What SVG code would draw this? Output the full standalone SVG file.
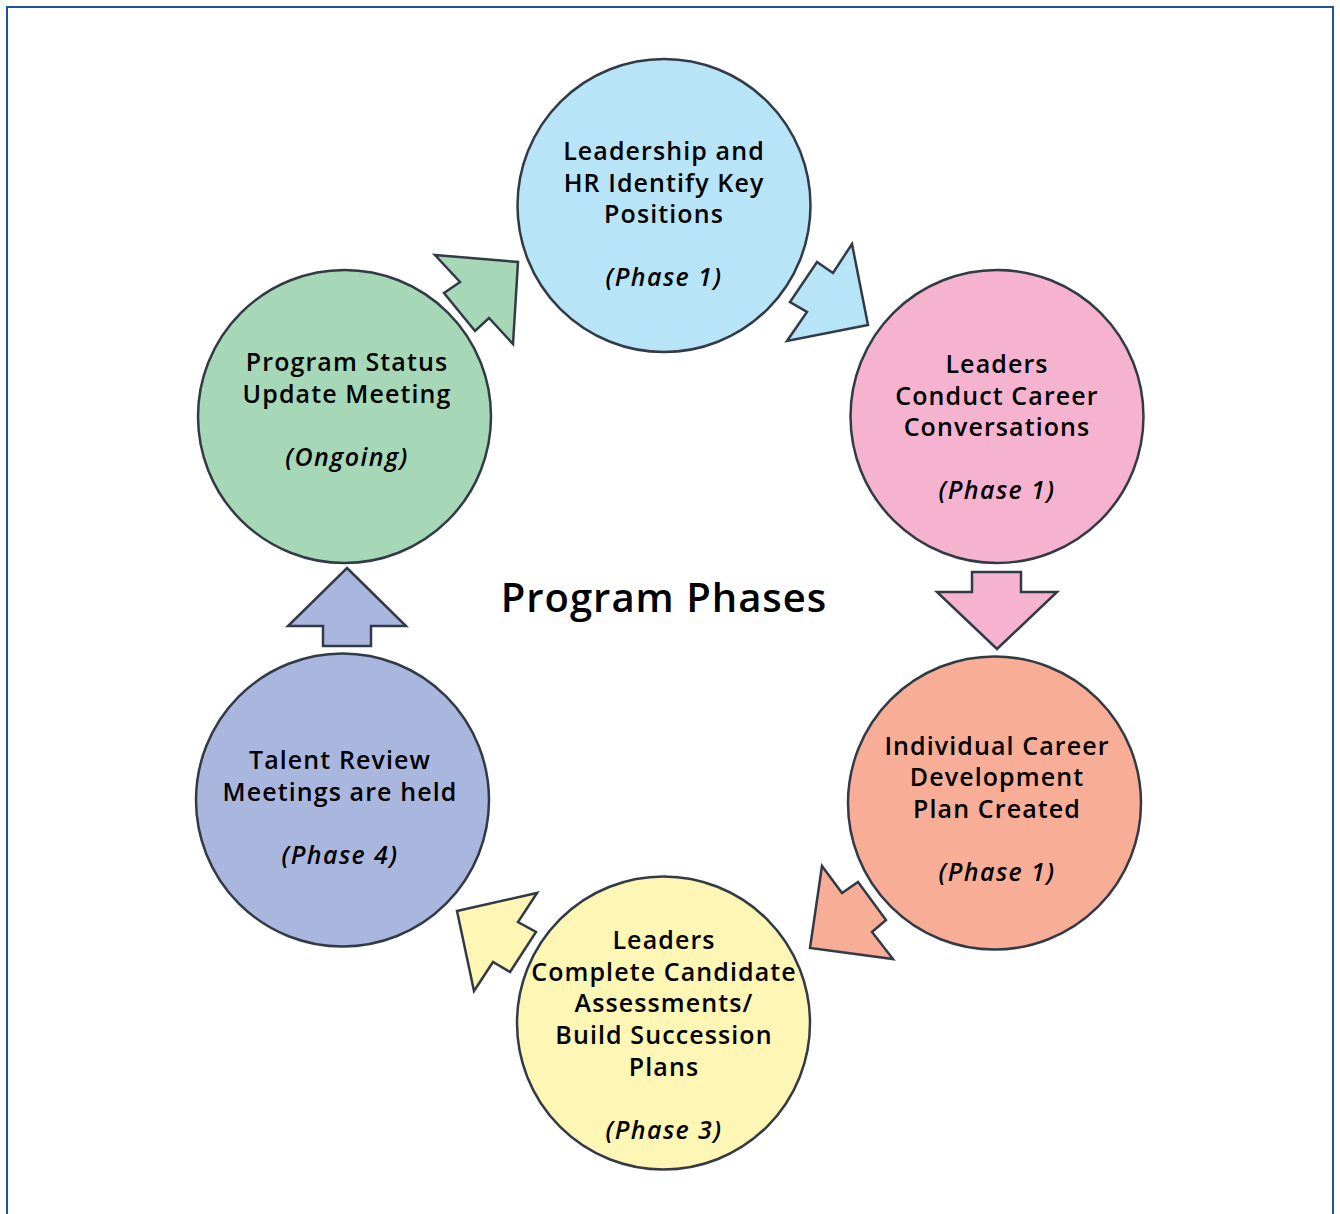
<svg xmlns="http://www.w3.org/2000/svg" width="1340" height="1214" viewBox="0 0 1340 1214">
<style>
.node{stroke:#323a46;stroke-width:2.5}
.arr{stroke:#323a46;stroke-width:2.5;stroke-linejoin:miter}
.t{font-family:"Open Sans","Liberation Sans",sans-serif;font-weight:600;font-size:25px;letter-spacing:1.1px;fill:#000;text-anchor:middle}
.p{font-style:italic;font-weight:600;letter-spacing:1.4px}
.title{font-family:"Open Sans","Liberation Sans",sans-serif;font-weight:600;font-size:40px;letter-spacing:1px;fill:#000;text-anchor:middle}
</style>
<rect x="0" y="0" width="1340" height="1214" fill="#fff"/>
<rect x="7" y="7" width="1326" height="1230" fill="none" stroke="#1f5597" stroke-width="2"/>
<g id="connectors">
<polygon class="arr" fill="#a6d7b6" points="435,255 518,262 513,344 489,318 475,331 444,293 460,282"/>
<polygon class="arr" fill="#b8e4f8" points="852,244 868,325 787,341 807,312 790,302 817,262 833,273"/>
<polygon class="arr" fill="#f5b3cf" points="972,572 1021,572 1021,592 1057,592 997,649 937,592 972,592"/>
<polygon class="arr" fill="#f8ae96" points="822,866 842,893 858,882 886,920 872,932 893,959 810,948"/>
<polygon class="arr" fill="#fdf6b4" points="537,893 518,922 536,932 510,972 493,962 474,991 457,911"/>
<polygon class="arr" fill="#a9b7df" points="347,568 406,626 371,626 371,646 323,646 323,626 288,626"/>
</g>
<g id="node-identify">
<circle class="node" cx="664" cy="205.5" r="146.5" fill="#b8e4f8"/>
<text class="t" x="664" y="160">Leadership and</text>
<text class="t" x="664" y="192">HR Identify Key</text>
<text class="t" x="664" y="223">Positions</text>
<text class="t p" x="664" y="286">(Phase 1)</text>
</g>
<g id="node-conversations">
<circle class="node" cx="997" cy="416.5" r="146.5" fill="#f5b3cf"/>
<text class="t" x="997" y="373">Leaders</text>
<text class="t" x="997" y="405">Conduct Career</text>
<text class="t" x="997" y="436">Conversations</text>
<text class="t p" x="997" y="499">(Phase 1)</text>
</g>
<g id="node-plan">
<circle class="node" cx="994.5" cy="803" r="146.5" fill="#f8ae96"/>
<text class="t" x="997" y="755">Individual Career</text>
<text class="t" x="997" y="786">Development</text>
<text class="t" x="997" y="818">Plan Created</text>
<text class="t p" x="997" y="881">(Phase 1)</text>
</g>
<g id="node-assessments">
<circle class="node" cx="663.5" cy="1023" r="146.5" fill="#fdf6b4"/>
<text class="t" x="664" y="949">Leaders</text>
<text class="t" x="664" y="981">Complete Candidate</text>
<text class="t" x="664" y="1012">Assessments/</text>
<text class="t" x="664" y="1044">Build Succession</text>
<text class="t" x="664" y="1076">Plans</text>
<text class="t p" x="664" y="1139">(Phase 3)</text>
</g>
<g id="node-talent">
<circle class="node" cx="342.5" cy="800" r="146.5" fill="#a9b7df"/>
<text class="t" x="340" y="769">Talent Review</text>
<text class="t" x="340" y="801">Meetings are held</text>
<text class="t p" x="340" y="864">(Phase 4)</text>
</g>
<g id="node-status">
<circle class="node" cx="344.5" cy="416.5" r="146.5" fill="#a6d7b6"/>
<text class="t" x="347" y="371">Program Status</text>
<text class="t" x="347" y="403">Update Meeting</text>
<text class="t p" x="347" y="466">(Ongoing)</text>
</g>
<g id="title">
<text class="title" x="664" y="612">Program Phases</text>
</g>
</svg>
